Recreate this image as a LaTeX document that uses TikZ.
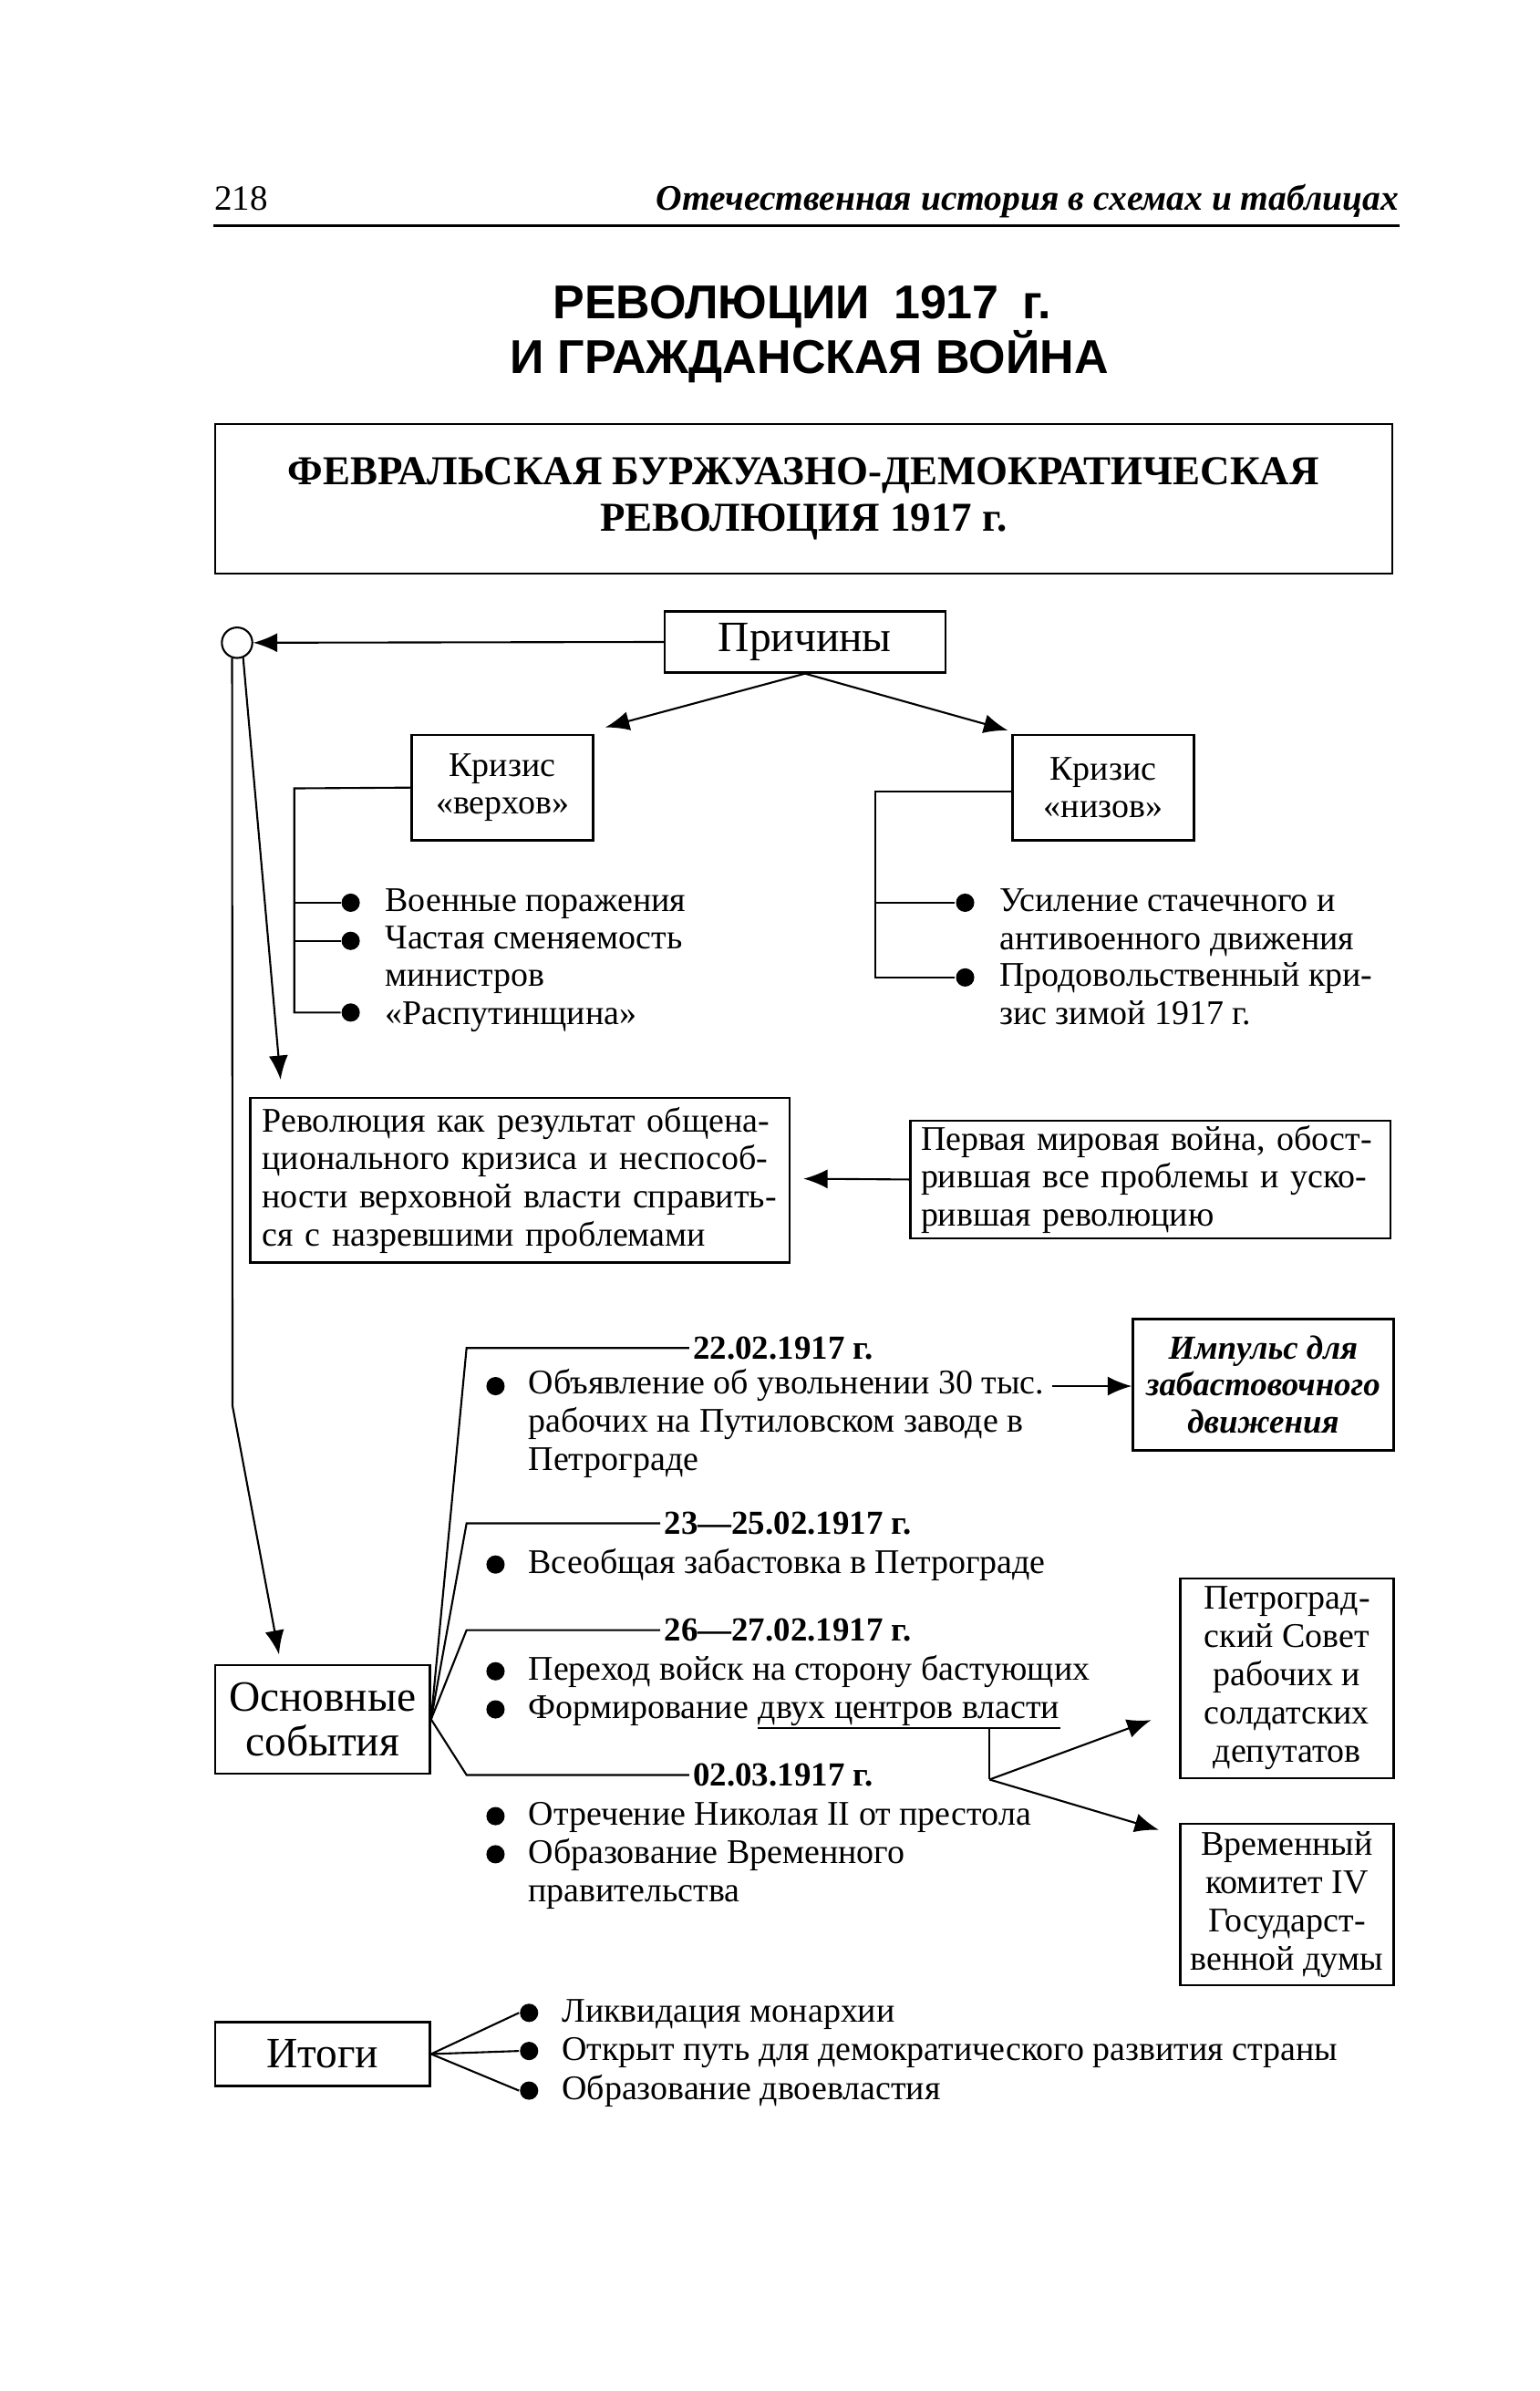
\documentclass[tikz,border=0pt]{standalone}
\usepackage{fontspec}
\setmainfont{Liberation Serif}
\newfontfamily\titlesans{Liberation Sans}
\usetikzlibrary{arrows.meta,positioning}

\newcommand{\upx}{0.016723cm}

\tikzset{
  box/.style={draw, line width=0.7pt, inner sep=0pt, align=center, font=\fontsize{10.8}{11.9}\selectfont},
  bigbox/.style={box, font=\fontsize{13.5}{13.8}\selectfont},
  item/.style={inner sep=0pt, anchor=base west, align=left, font=\fontsize{10.8}{11.9}\selectfont},
  datelbl/.style={inner sep=1pt, anchor=west, font=\fontsize{10.5}{11.9}\selectfont\bfseries},
  dot/.style={circle, fill, inner sep=0pt, minimum size=12*\upx},
  hub/.style={circle, draw, fill=white, inner sep=0pt, minimum size=20*\upx},
  arr/.style={-{Latex[length=7.5pt,width=6pt]}},
}

\begin{document}
\begin{tikzpicture}[x=\upx, y=-\upx, line width=0.6pt]
\useasboundingbox (0,0) rectangle (1010,1568);

\node[inner sep=0pt, anchor=base west, font=\fontsize{11.1}{13}\selectfont] (page) at (140,138) {218};
\node[inner sep=0pt, anchor=base east, font=\fontsize{11.25}{13}\selectfont\bfseries\itshape] (book) at (918,138) {Отечественная история в схемах и таблицах};
\draw[line width=0.7pt] (140,148) -- (918,148);

\node[inner sep=0pt, anchor=base, font=\titlesans\fontsize{14.8}{18}\selectfont\bfseries] (title1) at (526,209) {РЕВОЛЮЦИИ\hspace{0.5em}1917\hspace{0.5em}г.};
\node[inner sep=0pt, anchor=base, font=\titlesans\fontsize{14.8}{18}\selectfont\bfseries] (title2) at (531,245) {И ГРАЖДАНСКАЯ ВОЙНА};

\node[box, minimum width=772*\upx, minimum height=98*\upx, font=\fontsize{12.8}{14.7}\selectfont\bfseries] (feb) at (527,327) {ФЕВРАЛЬСКАЯ БУРЖУАЗНО-ДЕМОКРАТИЧЕСКАЯ\\РЕВОЛЮЦИЯ 1917 г.};

\node[bigbox, minimum width=184*\upx, minimum height=40*\upx] (causes) at (528,421) {Причины};
\node[hub] (hub) at (155.5,421.5) {};
\draw[arr] (causes.west) -- (hub.east);

\node[box, minimum width=119*\upx, minimum height=69*\upx] (top) at (329.5,516.5) {Кризис\\«верхов»};
\node[box, minimum width=119*\upx, minimum height=69*\upx] (bottom) at (723.5,516.5) {Кризис\\«низов»};
\coordinate (toptip) at (397,477);
\coordinate (bottomtip) at (661,479);
\draw[arr] (causes.south) -- (toptip);
\draw[arr] (causes.south) -- (bottomtip);

\node[dot] (ta) at (230,592) {};
\node[dot] (tb) at (230,617) {};
\node[dot] (tc) at (230,664) {};
\node[item] (tatext) at (252,598) {Военные поражения};
\node[item] (tbtext) at (252,647) {Частая сменяемость\\министров};
\node[item] (tctext) at (252,672) {«Распутинщина»};
\coordinate (topbar) at (193,517);
\draw (top.west) -- (topbar) |- (tc.west);
\draw (topbar |- ta) -- (ta.west);
\draw (topbar |- tb) -- (tb.west);

\node[dot] (ba) at (633,592) {};
\node[dot] (bb) at (633,641) {};
\node[item] (batext) at (655,623) {Усиление стачечного и\\антивоенного движения};
\node[item] (bbtext) at (655,672) {Продовольственный кри-\\зис зимой 1917 г.};
\coordinate (bottombar) at (574,519);
\draw (bottom.west |- bottombar) -- (bottombar) |- (bb.west);
\draw (bottombar |- ba) -- (ba.west);

\node[box, minimum height=108*\upx, text width=5.652cm, inner xsep=8*\upx, align=left] (result) at (341,774) {Революция как результат общена-\\ционального кризиса и неспособ-\\ности верховной власти справить-\\ся с назревшими проблемами};
\node[box, minimum height=77*\upx, text width=5.034cm, inner xsep=7*\upx, align=left] (war) at (754.5,773.5) {Первая мировая война, обост-\\рившая все проблемы и уско-\\рившая революцию};
\coordinate (resulttip) at (527,773);
\draw[arr] (war.west) -- (resulttip);

\coordinate (revtip) at (184,708);
\coordinate (bend) at (152.5,922);
\coordinate (eventstip) at (183,1085);
\draw[arr] (hub.-68) -- (revtip);
\draw[arr] (hub.-108) -- (bend) -- (eventstip);

\node[bigbox, minimum width=141*\upx, minimum height=71*\upx] (events) at (211.5,1127.5) {Основные\\события};

\node[datelbl] (da) at (452,884) {22.02.1917 г.};
\node[datelbl] (db) at (433,999) {23---25.02.1917 г.};
\node[datelbl] (dc) at (433,1069) {26---27.02.1917 г.};
\node[datelbl] (dd) at (452,1164) {02.03.1917 г.};
\coordinate (fan) at (306,0);
\draw (events.east) -- (fan |- da.west) -- (da.west);
\draw (events.east) -- (fan |- db.west) -- (db.west);
\draw (events.east) -- (fan |- dc.west) -- (dc.west);
\draw (events.east) -- (fan |- dd.west) -- (dd.west);

\node[dot] (ea) at (325,909) {};
\node[dot] (eb) at (325,1026) {};
\node[dot] (ec) at (325,1096) {};
\node[dot] (ed) at (325,1121) {};
\node[dot] (ee) at (325,1191) {};
\node[dot] (ef) at (325,1216) {};
\node[item] (eatext) at (346,964) {Объявление об увольнении 30 тыс.\\рабочих на Путиловском заводе в\\Петрограде};
\node[item] (ebtext) at (346,1032) {Всеобщая забастовка в Петрограде};
\node[item] (ectext) at (346,1102) {Переход войск на сторону бастующих};
\node[item] (edtext) at (346,1127) {Формирование};
\node[item, base right=0.25em of edtext] (centres) {двух центров власти};
\node[item] (eetext) at (346,1197) {Отречение Николая II от престола};
\node[item] (eftext) at (346,1247) {Образование Временного\\правительства};

\node[box, minimum width=171*\upx, minimum height=86*\upx, font=\fontsize{10.5}{11.6}\selectfont\bfseries\itshape] (impulse) at (828.5,908) {Импульс для\\забастовочного\\движения};
\coordinate (tys) at (690,909);
\draw[arr] (tys) -- (tys -| impulse.west);

\node[box, minimum width=140*\upx, minimum height=131*\upx] (soviet) at (844,1100.5) {Петроград-\\ский Совет\\рабочих и\\солдатских\\депутатов};
\node[box, minimum width=140*\upx, minimum height=106*\upx] (duma) at (844,1249) {Временный\\комитет IV\\Государст-\\венной думы};

\coordinate (ulleft) at ([yshift=-3pt]centres.base west);
\coordinate (ulright) at ([yshift=-3pt]centres.base east);
\draw (ulleft) -- (ulright);
\coordinate (fork) at (649,1167);
\coordinate (soviettip) at (755,1128);
\coordinate (dumatip) at (760,1200);
\draw (fork |- ulright) -- (fork);
\draw[arr] (fork) -- (soviettip);
\draw[arr] (fork) -- (dumatip);

\node[bigbox, minimum width=141*\upx, minimum height=42*\upx] (totals) at (211.5,1347) {Итоги};
\node[dot] (ia) at (347,1320) {};
\node[dot] (ib) at (347,1345) {};
\node[dot] (ic) at (347,1371) {};
\node[item] (iatext) at (368,1326) {Ликвидация монархии};
\node[item] (ibtext) at (368,1351) {Открыт путь для демократического развития страны};
\node[item] (ictext) at (368,1377) {Образование двоевластия};
\draw (totals.east) -- (ia.west);
\draw (totals.east) -- (ib.west);
\draw (totals.east) -- (ic.west);

\end{tikzpicture}
\end{document}
